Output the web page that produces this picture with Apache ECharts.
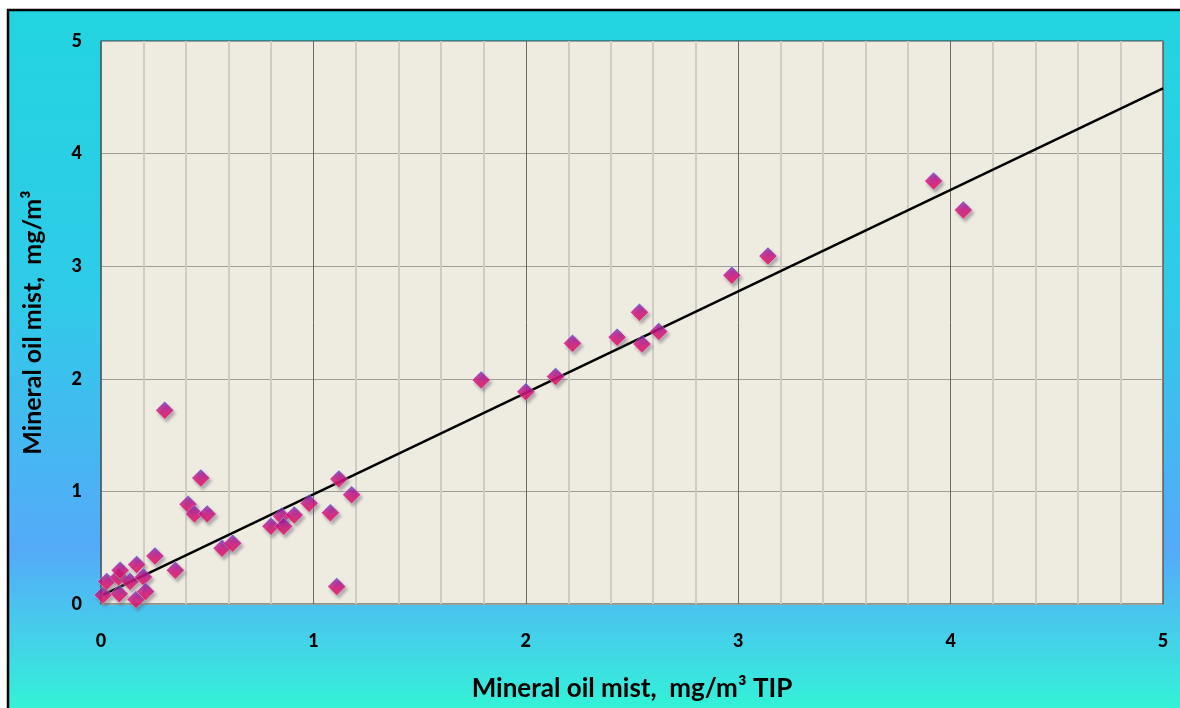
<!DOCTYPE html>
<html><head><meta charset="utf-8">
<script src="https://cdn.jsdelivr.net/npm/echarts@6/dist/echarts.min.js"></script>
<style>html,body{margin:0;padding:0;background:#fff}#c{width:1180px;height:708px}</style>
</head><body><div id="c"></div>
<script>
// Measured pairs (x = TIP, y = other method), mg/m3
const xValues = [0.01,0.027,0.086,0.083,0.09,0.137,0.165,0.168,0.20,0.21,0.254,0.30,0.35,0.41,0.44,0.47,0.50,0.57,0.62,0.80,0.85,0.86,0.91,0.98,1.08,1.11,1.12,1.18,1.79,2.00,2.14,2.22,2.43,2.535,2.547,2.626,2.97,3.14,3.92,4.06];
const yValues = [0.08,0.20,0.09,0.24,0.30,0.20,0.04,0.35,0.24,0.11,0.426,1.72,0.30,0.885,0.80,1.12,0.80,0.495,0.54,0.69,0.78,0.69,0.79,0.894,0.81,0.155,1.11,0.97,1.99,1.885,2.02,2.315,2.37,2.59,2.31,2.42,2.92,3.09,3.757,3.50];
// Trend line end points
const trendX = [0.01, 5];
const trendY = [0.08, 4.58];
const xTicks = [0,1,2,3,4,5];
const yTicks = [0,1,2,3,4,5];
const xTitle = 'Mineral oil mist,  mg/m³ TIP';
const yTitle = 'Mineral oil mist,  mg/m³';

const points = xValues.map((x,i)=>[x,yValues[i]]);
const trend = trendX.map((x,i)=>[x,trendY[i]]);

const chart = echarts.init(document.getElementById('c'), null, {renderer:'canvas'});
const FONT = 'Lato, "Open Sans", sans-serif';
chart.setOption({
  animation:false,
  backgroundColor:'#ffffff',
  graphic:[{
    type:'rect', z:-10, silent:true,
    shape:{x:8,y:10,width:1180,height:710},
    style:{
      fill:new echarts.graphic.LinearGradient(0,0,0,1,[
        {offset:0,color:'#22d4e0'},
        {offset:0.4,color:'#2fcbe8'},
        {offset:0.76,color:'#55aaf8'},
        {offset:0.88,color:'#44d0ea'},
        {offset:1,color:'#30f8d4'}
      ]),
      stroke:'#000', lineWidth:2.5
    }
  }],
  grid:{left:101,right:17,top:41,bottom:104,show:true,backgroundColor:'#eeebe0',borderColor:'#3a3a3a',borderWidth:1.2},
  xAxis:{
    type:'value',min:0,max:5,interval:1,
    name:xTitle,nameLocation:'middle',nameGap:72,
    nameTextStyle:{fontFamily:FONT,fontWeight:'bold',fontSize:26,color:'#000'},
    axisLine:{show:false},axisTick:{show:false},
    axisLabel:{margin:28,fontFamily:FONT,fontWeight:900,fontSize:18,color:'#000',
      formatter:v=>xTicks.includes(v)?String(v):''},
    splitLine:{show:true,lineStyle:{color:'#6a6a6a',width:1}},
    minorTick:{show:false,splitNumber:5},
    minorSplitLine:{show:true,lineStyle:{color:'#cfccc4',width:2}}
  },
  yAxis:{
    type:'value',min:0,max:5,interval:1,
    name:yTitle,nameLocation:'middle',nameGap:56,nameRotate:90,
    nameTextStyle:{fontFamily:FONT,fontWeight:'bold',fontSize:25,color:'#000'},
    axisLine:{show:false},axisTick:{show:false},
    axisLabel:{margin:19,fontFamily:FONT,fontWeight:900,fontSize:18,color:'#000',
      formatter:v=>yTicks.includes(v)?String(v):''},
    splitLine:{show:true,lineStyle:{color:'#a09e98',width:1.2}}
  },
  series:[
    {type:'line',data:trend,symbol:'none',z:2,
     lineStyle:{color:'#000',width:2.5}},
    {type:'scatter',data:points,symbol:'diamond',symbolSize:18,z:3,
     itemStyle:{
       color:new echarts.graphic.LinearGradient(0,0,0,1,[
         {offset:0,color:'#4852d4'},
         {offset:0.25,color:'#a0189c'},
         {offset:0.55,color:'#d6107c'},
         {offset:1,color:'#f0105c'}
       ]),
       borderColor:'rgba(255,255,255,0.6)',borderWidth:0.6,
       shadowColor:'rgba(90,90,110,0.55)',shadowBlur:3,shadowOffsetX:2,shadowOffsetY:3
     }}
  ]
});
</script></body></html>
